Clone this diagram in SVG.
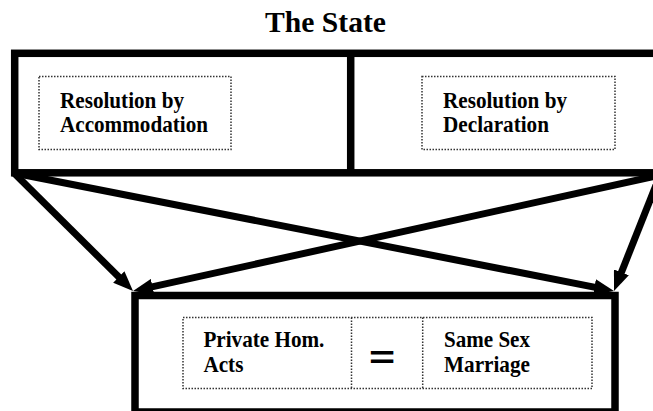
<svg xmlns="http://www.w3.org/2000/svg" width="653" height="411" viewBox="0 0 653 411">
<style>
.box{fill:none;stroke:#000;stroke-width:7.5}
.dot{fill:none;stroke:#333;stroke-width:1.5;stroke-dasharray:1.5 1.5}
.con{fill:none;stroke:#000;stroke-width:7}
.t{font-family:"Liberation Serif","Times New Roman",serif;font-weight:bold;font-size:23px;fill:#000}
.title{font-family:"Liberation Serif","Times New Roman",serif;font-weight:bold;font-size:30px;fill:#000}
.eq{font-family:"Liberation Sans",Arial,sans-serif;font-weight:bold;font-size:32px;fill:#000}
</style>
<defs>
<marker id="ah" markerUnits="userSpaceOnUse" markerWidth="20" markerHeight="16" refX="10" refY="8" orient="auto" viewBox="0 0 20 16">
<path d="M0,0 L20,8 L0,16 z" fill="#000"/>
</marker>
</defs>
<rect width="653" height="411" fill="#fff"/>
<text class="title" x="265" y="32" textLength="121" lengthAdjust="spacingAndGlyphs">The State</text>
<g id="connectors">
<line class="con" x1="14" y1="173" x2="125.9" y2="284" marker-end="url(#ah)"/>
<line class="con" x1="14" y1="173" x2="604.2" y2="289.1" marker-end="url(#ah)"/>
<line class="con" x1="660" y1="175" x2="142.8" y2="288.9" marker-end="url(#ah)"/>
<line class="con" x1="660" y1="175" x2="617.7" y2="281.7" marker-end="url(#ah)"/>
</g>
<g id="state">
<rect class="box" x="14.7" y="53.3" width="643" height="119.5"/>
<line class="box" x1="350.7" y1="53.3" x2="350.7" y2="172.8"/>
</g>
<g id="accommodation">
<rect class="dot" x="39" y="76.5" width="192" height="73"/>
<text class="t" x="60" y="108" textLength="124" lengthAdjust="spacingAndGlyphs">Resolution by</text>
<text class="t" x="60" y="131.7" textLength="148" lengthAdjust="spacingAndGlyphs">Accommodation</text>
</g>
<g id="declaration">
<rect class="dot" x="422" y="76.5" width="193" height="73"/>
<text class="t" x="443" y="108" textLength="124" lengthAdjust="spacingAndGlyphs">Resolution by</text>
<text class="t" x="443" y="131.7" textLength="106" lengthAdjust="spacingAndGlyphs">Declaration</text>
</g>
<g id="outcome">
<rect class="box" x="135" y="295.5" width="480" height="116.5"/>
<rect class="dot" x="183" y="317.5" width="409" height="71"/>
<line class="dot" x1="351.5" y1="317.5" x2="351.5" y2="388.5"/>
<line class="dot" x1="422.7" y1="317.5" x2="422.7" y2="388.5"/>
<text class="t" x="203.4" y="347" textLength="121" lengthAdjust="spacingAndGlyphs">Private Hom.</text>
<text class="t" x="203.4" y="371.7" textLength="40" lengthAdjust="spacingAndGlyphs">Acts</text>
<text class="eq" transform="translate(382,0) scale(1.4,1)" x="0" y="368" text-anchor="middle">=</text>
<text class="t" x="444" y="347" textLength="86" lengthAdjust="spacingAndGlyphs">Same Sex</text>
<text class="t" x="444" y="371.7" textLength="86" lengthAdjust="spacingAndGlyphs">Marriage</text>
</g>
</svg>
